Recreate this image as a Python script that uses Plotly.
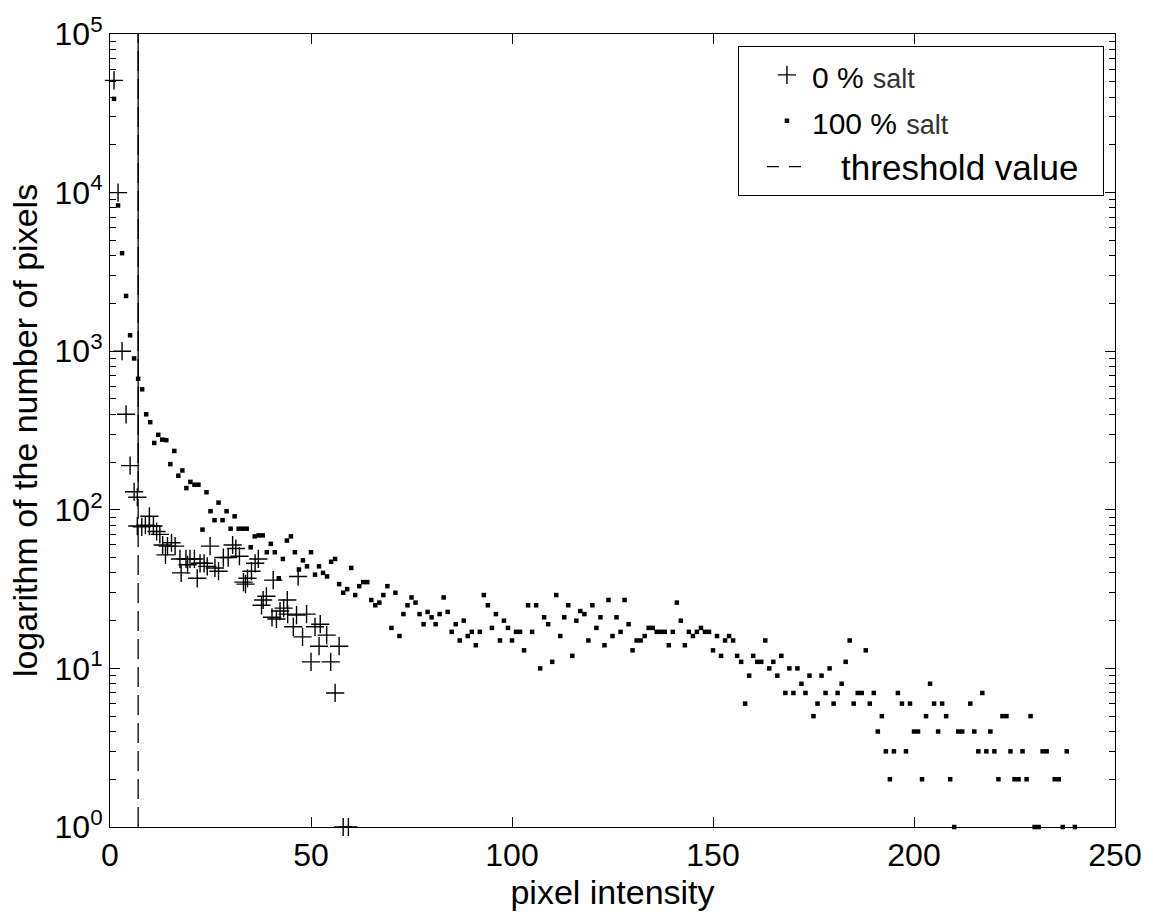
import plotly.graph_objects as go

# ---------------- data ----------------
# 0 % salt (plus markers)
salt0_x = [1, 2, 3, 4, 5, 6, 6.8, 6.8, 7.9, 8.8, 9.8, 9.8, 10.8, 11.6, 12.4, 13.1, 13.8,
           14.3, 15.3, 16.2, 17.4, 17.7, 18.9, 19.3, 19.9, 21, 21.7, 22.4, 23.4, 24.2,
           24.9, 26.1, 27, 28.2, 29.4, 30.5, 31.3, 32.2, 33.2, 33.7, 34.2, 35.2, 36.1,
           36.9, 37.7, 38.1, 38.9, 40.3, 40.6, 41.4, 42.3, 43.2, 44.1, 44.2, 45.6, 46.4,
           46.8, 47.9, 48.9, 50, 51, 52, 52.3, 53.9, 54.9, 56, 57, 58, 59.3]
salt0_y = [51000, 10000, 1000, 400, 190, 130, 120, 79, 78, 80, 91, 79, 79, 73, 70, 60, 52,
           59, 62, 59, 49, 40, 49, 45, 49, 49, 37, 46, 46, 44,
           59, 43, 41, 50, 50, 60, 57, 51, 35, 34, 37, 41, 46,
           49, 25, 27, 28.5, 21, 36, 20.5, 23, 24, 27, 22, 18.3, 21.7,
           38, 15.8, 22, 11, 18.3, 13.8, 19, 16.2, 11, 7, 13.8, 1, 1]

# 100 % salt (small square dots)
salt100_x = list(range(1, 213)) + [214, 215, 216, 217, 218, 219, 220, 221, 222, 223, 224,
                                   225, 226, 227, 228, 229, 230, 231, 232, 233, 235, 236,
                                   237, 238, 240]
salt100_y = [39000, 8300, 4150, 2230, 1260, 900, 670, 575, 400, 357,
             264, 297, 277, 275, 194, 235, 164, 177, 137, 150,
             144, 144, 75, 129, 98, 86, 111, 86, 98, 76,
             91, 76, 76, 76, 58, 68, 69, 69, 54, 61,
             54, 37, 49, 64, 68, 54, 42, 48, 44, 54,
             39, 44, 40, 38, 47, 49, 34, 30, 31.6, 43,
             29, 33, 35, 35, 27, 25, 26, 29, 33, 18,
             30, 16, 22, 25, 28, 26, 22, 19, 22.7, 21,
             19, 22, 28, 22.7, 17, 19, 15, 20, 16, 17,
             14, 17, 29, 25, 18, 22, 15, 20, 18, 15,
             17, 17, 13, 25, 17, 25, 10, 21, 19, 11,
             29, 16, 21, 25, 12, 20, 23, 22, 15, 25,
             18, 21, 14, 27, 16, 21, 17, 27, 19, 13,
             15, 15, 16, 18, 18, 17, 17, 17, 14, 17,
             26, 20, 14, 17, 16, 17, 18, 17, 17, 13,
             16, 12, 15, 16, 15, 12, 11, 6, 9, 12,
             11, 11, 15, 10, 11, 9, 12, 7, 10, 7,
             10, 8, 7, 9, 5, 6, 9, 7, 10, 6,
             7, 8, 11, 15, 6, 7, 7, 13, 6, 7,
             4, 5, 3, 2, 3, 7, 6, 3, 6, 4,
             4, 2, 5, 8, 6, 4, 6, 5, 2, 1,
             4, 4,
             6, 4, 3, 7, 3, 4, 3, 2, 5, 5, 3,
             2, 2, 3, 2, 5, 1, 1, 3, 3, 2, 2,
             1, 3, 1]

threshold = 7
threshold_range = [1, 1e5]
threshold_solid_range = [150, 1e5]

x_ticks = [0, 50, 100, 150, 200, 250]
y_tick_vals = [1, 10, 100, 1000, 10000, 100000]
y_tick_text = ["10<sup>0</sup>", "10<sup>1</sup>", "10<sup>2</sup>",
               "10<sup>3</sup>", "10<sup>4</sup>", "10<sup>5</sup>"]

FONT = "Liberation Sans, Arial, Helvetica, sans-serif"

fig = go.Figure()

fig.add_trace(go.Scatter(
    x=salt0_x, y=salt0_y, mode="markers",
    name="<span style='font-size:30px'>0 %</span> <span style='font-size:27px;color:#333'>salt</span>",
    marker=dict(symbol="cross-thin", size=13, color="black",
                line=dict(width=1.4, color="black")),
    cliponaxis=False,
))

fig.add_trace(go.Scatter(
    x=salt100_x, y=salt100_y, mode="markers",
    name="<span style='font-size:30px'>100 %</span> <span style='font-size:27px;color:#333'>salt</span>",
    marker=dict(symbol="square", size=4.5, color="black", line=dict(width=0)),
    cliponaxis=False,
))

# threshold line (dashed over the full range, solid in its upper part)
fig.add_trace(go.Scatter(
    x=[threshold, threshold], y=threshold_range, mode="lines",
    showlegend=False, legendgroup="thr", hoverinfo="skip",
    line=dict(color="black", width=1.3, dash="20px,8px"),
))
fig.add_trace(go.Scatter(
    x=[threshold, threshold], y=threshold_solid_range, mode="lines",
    showlegend=False, legendgroup="thr", hoverinfo="skip",
    line=dict(color="black", width=1.3),
))
# legend entry for the threshold (legend key only)
fig.add_trace(go.Scatter(
    x=[None], y=[None], mode="lines", legendgroup="thr",
    name="<span style='font-size:35px'>&nbsp;&nbsp;&nbsp;threshold value&nbsp;&nbsp;</span>",
    line=dict(color="black", width=1.3, dash="12px,10px"),
))

fig.update_layout(
    width=1153, height=915,
    margin=dict(l=110, r=38, t=34, b=88),
    paper_bgcolor="white", plot_bgcolor="white",
    font=dict(family=FONT, size=32, color="black"),
    showlegend=True,
    legend=dict(
        x=0.989, y=0.985, xanchor="right", yanchor="top",
        bgcolor="white", bordercolor="black", borderwidth=1,
        font=dict(family=FONT, size=33, color="black"),
        traceorder="normal", itemwidth=40, indentation=23,
    ),
)

fig.update_xaxes(
    range=[0, 250], tickvals=x_ticks, ticktext=[str(v) for v in x_ticks],
    showgrid=False, zeroline=False,
    showline=True, linecolor="black", linewidth=1, mirror="ticks",
    ticks="inside", ticklen=10, tickcolor="black", tickwidth=1,
    tickfont=dict(family=FONT, size=32, color="black"),
    title=dict(text="pixel intensity", font=dict(family=FONT, size=34, color="black"),
               standoff=6),
)

fig.update_yaxes(
    type="log", range=[0, 5],
    tickmode="array", tickvals=y_tick_vals, ticktext=y_tick_text,
    showgrid=False, zeroline=False,
    showline=True, linecolor="black", linewidth=1, mirror="ticks",
    ticks="inside", ticklen=10, tickcolor="black", tickwidth=1,
    minor=dict(ticks="inside", ticklen=6, tickcolor="black", tickwidth=1,
               dtick="D1", showgrid=False),
    tickfont=dict(family=FONT, size=32, color="black"),
    title=dict(text="logarithm of the number of pixels",
               font=dict(family=FONT, size=34, color="black"), standoff=6),
)

fig.write_html("out.html")
